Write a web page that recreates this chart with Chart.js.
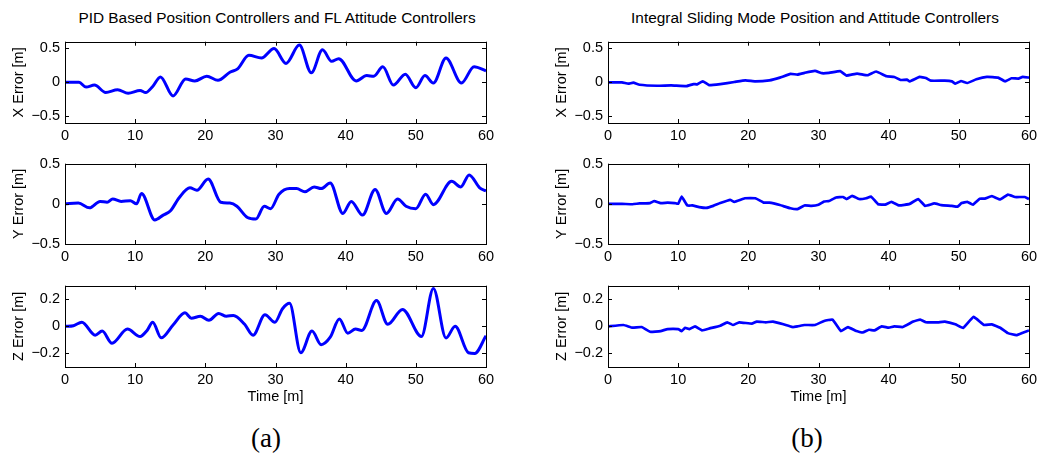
<!DOCTYPE html>
<html lang="en">
<head>
    <meta charset="UTF-8">
    <title>Position error comparison</title>
    <script src="https://cdn.jsdelivr.net/npm/chart.js"></script>
    <style>
        body {
            margin: 0;
            background: #fff;
            font-family: "Liberation Sans", Arial, sans-serif;
        }
        #page {
            position: relative;
            width: 1043px;
            height: 455px;
            overflow: hidden;
        }
        canvas {
            position: absolute;
        }
        .title {
            position: absolute;
            font-size: 15.4px;
            color: #000;
            white-space: nowrap;
            transform: translate(-50%, -50%);
        }
        .caption {
            position: absolute;
            font-family: "Liberation Serif", "DejaVu Serif", serif;
            font-size: 27px;
            color: #000;
            transform: translate(-50%, -50%);
        }
    </style>
</head>
<body>
<div id="page">
    <div class="title" style="left:277px; top:18px;">PID Based Position Controllers and FL Attitude Controllers</div>
    <div class="title" style="left:815px; top:18px;">Integral Sliding Mode Position and Attitude Controllers</div>
    <div class="caption" style="left:266px; top:438px;">(a)</div>
    <div class="caption" style="left:807px; top:438px;">(b)</div>
</div>

<script>
    // (a) PID / FL controllers
    const tXa = [0,2,3,4.2,5.8,7.5,9,10.7,11.5,12.5,13.6,15.4,17.2,18.5,20.2,21.8,23.5,24.6,26.2,28,29.8,31.5,33.4,35.1,36.7,38,39,41.5,43,44,45.3,46.8,48.5,50,51.3,52.5,54.3,56.5,58.3,60];
    const xErrA = [0,0,-0.07,-0.04,-0.15,-0.11,-0.16,-0.12,-0.15,-0.06,0.08,-0.2,0.05,0.02,0.09,0.03,0.15,0.2,0.4,0.36,0.5,0.28,0.55,0.14,0.48,0.31,0.35,0.02,0.1,0.09,0.23,-0.04,0.12,-0.08,0.1,-0.01,0.36,-0.01,0.23,0.17];

    const tYa = [0,1.9,3.5,5,6,6.8,8,9.3,10.2,10.9,12.8,14,15,16.3,17.8,18.8,20.4,22.2,23.5,24.5,26,27.2,28.4,29.3,30.5,32,33,34.2,35.5,36.5,37.8,39.6,40.8,42.4,44.2,45.8,47.4,48.6,50,51.4,52.5,55.1,56.4,57.6,59.1,60];
    const yErrA = [0,0.01,-0.05,0.03,0.02,0.06,0.03,0.04,0,0.13,-0.2,-0.14,-0.09,0.08,0.2,0.17,0.31,0.02,0.01,-0.03,-0.17,-0.19,-0.03,-0.06,0.12,0.19,0.19,0.15,0.21,0.19,0.26,-0.12,0.03,-0.14,0.18,-0.12,0.06,-0.03,-0.06,0.12,-0.01,0.28,0.21,0.36,0.2,0.16];

    const tZa = [0,1.2,2.4,4.3,5.3,6.7,8.9,10.7,11.7,12.5,13.7,15.4,17.1,18,19.3,20.5,21.9,23,24,25.6,26.8,28.5,29.9,31,32,33.6,35.2,36.5,37.8,39.1,40.3,41.4,42.3,44.4,46,48.1,50.8,52.5,54.3,55.6,57.5,58.4,60];
    const zErrA = [0,0.005,0.03,-0.065,-0.035,-0.125,-0.02,-0.075,-0.03,0.03,-0.085,0.01,0.1,0.06,0.075,0.045,0.095,0.075,0.08,0.015,-0.065,0.085,0.03,0.13,0.17,-0.195,-0.035,-0.135,-0.08,0.055,-0.05,-0.02,-0.03,0.19,0.015,0.125,-0.075,0.28,-0.086,0,-0.195,-0.2,-0.07];

    // (b) integral sliding mode controllers
    const tXb = [0,2,2.9,3.6,4.5,7,9,11.2,12.2,12.7,13.5,14.4,16,18,19.6,21,23,24.5,26,27,28,29.5,30.5,31.5,33.1,34,35.5,37,38.2,39.7,40.8,41.7,42.6,43,44.4,45.3,46,48,49,49.5,50.3,51.2,52.5,54,55.6,56.6,57.5,58.5,59.1,60];
    const xErrB = [0,0,-0.02,-0.005,-0.035,-0.05,-0.045,-0.055,-0.025,-0.03,0.015,-0.04,-0.025,0.005,0.03,0.015,0.03,0.07,0.125,0.115,0.14,0.17,0.135,0.14,0.165,0.1,0.13,0.105,0.16,0.09,0.08,0.035,0.04,0.015,0.08,0.065,0.025,0.025,0.015,-0.02,0.02,-0.01,0.045,0.08,0.07,0.015,0.06,0.055,0.08,0.07];

    const tYb = [0,2,3.5,4.5,6,6.6,7.5,8.5,9.5,10,10.5,11.3,12,13,14,15,16,17.4,18,19.5,21,22.2,23,24.5,26,27,28,29,30,30.8,31.5,32.5,33.5,34,34.8,35.8,36.8,37.5,38.5,39.5,40.4,41.5,43,44.2,45.2,46.5,47.5,49,49.8,50.4,51.2,52,53,53.7,54.7,55.9,57,58,59.4,60];
    const yErrB = [0,0,-0.005,0.005,0.01,0.035,0.01,0.015,0.01,0,0.09,-0.02,-0.02,-0.04,-0.05,-0.025,0.01,0.05,0.025,0.07,0.07,0.015,0.015,-0.015,-0.055,-0.065,-0.02,-0.025,-0.01,0.03,0.035,0.08,0.085,0.06,0.1,0.06,0.07,0.09,-0.005,-0.01,0.025,-0.02,0,0.06,-0.025,0.005,-0.015,-0.025,-0.035,0.01,0.025,-0.01,0.065,0.065,0.095,0.055,0.115,0.085,0.085,0.06];

    const tZb = [0,2.2,3.5,4.8,6,7.5,8.5,10,10.5,11,11.6,12.4,13.4,14.5,16,17,17.8,18.7,20.5,21.2,22.5,23.5,25,26.3,27,28,29.5,30.8,32,33.2,34.2,35.4,36.3,37.2,38,39,40,40.8,42,43.5,44.5,45.3,47,48,49.5,50.6,52.1,53.6,54.7,55.9,57,58.2,59.2,60];
    const zErrB = [0,0.01,-0.01,-0.005,-0.04,-0.035,-0.02,-0.02,-0.035,-0.01,-0.02,0,-0.03,-0.015,0.005,0.03,0.01,0.03,0.02,0.035,0.03,0.035,0.015,-0.005,0,0.01,0.01,0.04,0.05,-0.035,-0.005,-0.035,-0.045,-0.025,-0.03,0,-0.01,0,-0.005,0.035,0.05,0.03,0.03,0.035,0.015,-0.012,0.07,0.01,0.015,-0.01,-0.05,-0.065,-0.045,-0.03];

    const timeTicks = [0, 10, 20, 30, 40, 50, 60];
    const xyTicks = [-0.5, 0, 0.5];
    const zTicks = [-0.2, 0, 0.2];

    const panels = [
        { left: 0,   top: 28,  height: 119, t: tXa, v: xErrA, min: -0.6, max: 0.6, ticks: xyTicks, label: 'X Error [m]', smooth: true },
        { left: 0,   top: 150, height: 118, t: tYa, v: yErrA, min: -0.5, max: 0.5, ticks: xyTicks, label: 'Y Error [m]', smooth: true },
        { left: 0,   top: 272, height: 140, t: tZa, v: zErrA, min: -0.3, max: 0.3, ticks: zTicks,  label: 'Z Error [m]', smooth: true, timeTitle: true },
        { left: 543, top: 28,  height: 119, t: tXb, v: xErrB, min: -0.6, max: 0.6, ticks: xyTicks, label: 'X Error [m]', smooth: false },
        { left: 543, top: 150, height: 118, t: tYb, v: yErrB, min: -0.5, max: 0.5, ticks: xyTicks, label: 'Y Error [m]', smooth: false },
        { left: 543, top: 272, height: 140, t: tZb, v: zErrB, min: -0.3, max: 0.3, ticks: zTicks,  label: 'Z Error [m]', smooth: false, timeTitle: true }
    ];

    // MATLAB-like frame with inward tick marks
    const boxPlugin = {
        id: 'matlabBox',
        afterDraw(chart) {
            const { ctx, chartArea: a, scales } = chart;
            ctx.save();
            ctx.strokeStyle = '#000';
            ctx.lineWidth = 1;
            ctx.strokeRect(Math.round(a.left) + 0.5, Math.round(a.top) + 0.5,
                Math.round(a.right - a.left), Math.round(a.bottom - a.top));
            ctx.beginPath();
            scales.x.ticks.forEach(tk => {
                const px = Math.round(scales.x.getPixelForValue(tk.value)) + 0.5;
                ctx.moveTo(px, a.bottom); ctx.lineTo(px, a.bottom - 4);
                ctx.moveTo(px, a.top); ctx.lineTo(px, a.top + 4);
            });
            scales.y.ticks.forEach(tk => {
                const py = Math.round(scales.y.getPixelForValue(tk.value)) + 0.5;
                ctx.moveTo(a.left, py); ctx.lineTo(a.left + 4, py);
                ctx.moveTo(a.right, py); ctx.lineTo(a.right - 4, py);
            });
            ctx.stroke();
            ctx.restore();
        }
    };

    const fmt = v => (v < 0 ? '\u2212' + Math.abs(v) : String(v));
    const tickFont = { family: '"Liberation Sans", Arial, sans-serif', size: 14.5 };

    panels.forEach(p => {
        const cv = document.createElement('canvas');
        cv.width = 500;
        cv.height = p.height;
        cv.style.left = p.left + 'px';
        cv.style.top = p.top + 'px';
        document.getElementById('page').appendChild(cv);

        new Chart(cv.getContext('2d'), {
            type: 'line',
            data: {
                datasets: [{
                    data: p.t.map((t, i) => ({ x: t, y: p.v[i] })),
                    borderColor: '#0000ff',
                    borderWidth: p.smooth ? 3 : 2.7,
                    pointRadius: 0,
                    fill: false,
                    cubicInterpolationMode: p.smooth ? 'monotone' : 'default',
                    tension: p.smooth ? 0.4 : 0.1
                }]
            },
            options: {
                responsive: false,
                animation: false,
                devicePixelRatio: 1,
                layout: { padding: { top: 6, right: 14, left: 0, bottom: 0 } },
                plugins: { legend: { display: false }, tooltip: { enabled: false } },
                scales: {
                    x: {
                        type: 'linear',
                        min: 0,
                        max: 60,
                        grid: { display: false, drawTicks: false },
                        border: { display: false },
                        afterBuildTicks: s => { s.ticks = timeTicks.map(v => ({ value: v })); },
                        afterFit: s => { s.height = p.timeTitle ? 45 : 24; },
                        ticks: { color: '#000', font: tickFont, padding: 4, maxRotation: 0 },
                        title: {
                            display: !!p.timeTitle,
                            text: 'Time [m]',
                            color: '#000',
                            font: tickFont,
                            padding: { top: 0, bottom: 6 }
                        }
                    },
                    y: {
                        min: p.min,
                        max: p.max,
                        grid: { display: false, drawTicks: false },
                        border: { display: false },
                        afterBuildTicks: s => { s.ticks = p.ticks.map(v => ({ value: v })); },
                        afterFit: s => { s.width = 65; },
                        ticks: { color: '#000', font: tickFont, padding: 5, callback: v => fmt(v) },
                        title: {
                            display: true,
                            text: p.label,
                            color: '#000',
                            font: tickFont,
                            padding: { top: 10, bottom: 0 }
                        }
                    }
                }
            },
            plugins: [boxPlugin]
        });
    });
</script>
</body>
</html>
